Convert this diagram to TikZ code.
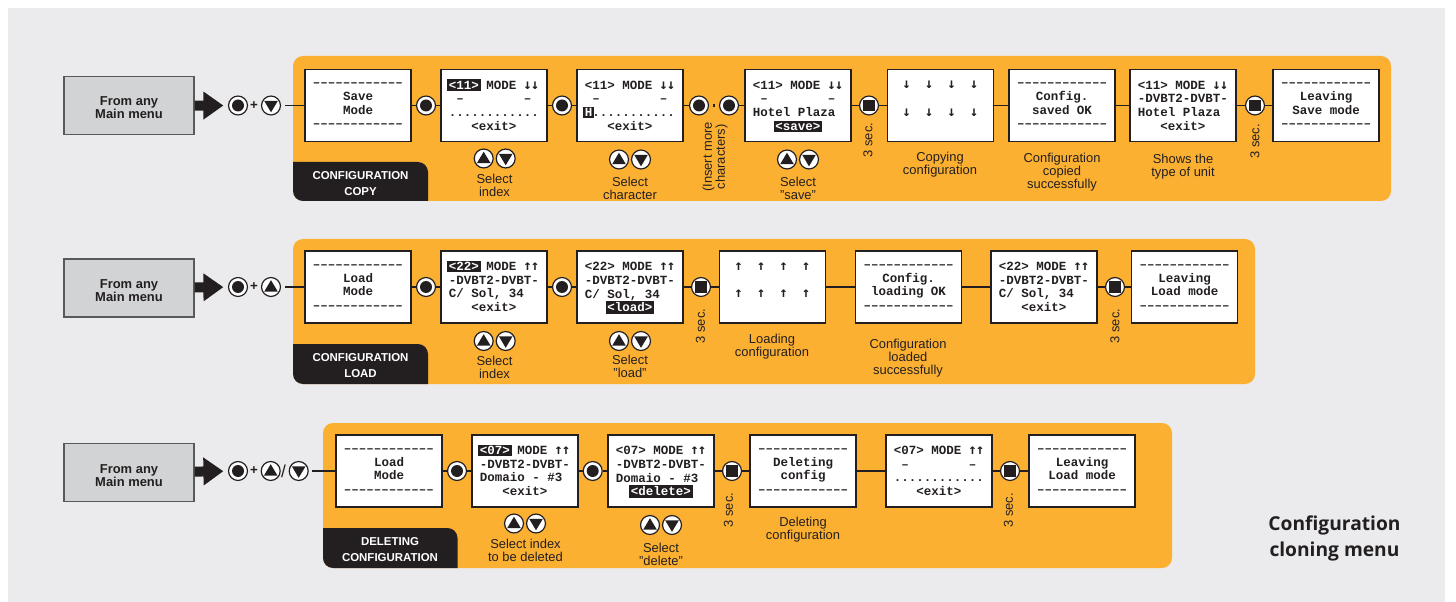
\documentclass[tikz,border=0pt]{standalone}
\usepackage{fontspec}
\usetikzlibrary{arrows.meta}
\setmainfont{Liberation Sans}
\newfontfamily\lcdfont{Liberation Mono}[BoldFont={Liberation Mono Bold}]
\newfontfamily\arrowfont{DejaVu Sans Mono}[BoldFont={DejaVu Sans Mono Bold}]
\newfontfamily\titlefont{Open Sans}
\definecolor{ink}{HTML}{231F20}
\definecolor{panelbg}{HTML}{EBEBED}
\definecolor{amber}{HTML}{FCB032}
\definecolor{boxgrey}{HTML}{D1D3D4}
\definecolor{boxline}{HTML}{58595B}
\newcommand\lcdtype{\lcdfont\bfseries\fontsize{9.375}{10.3}\selectfont}
\newcommand\gp[1]{\hspace*{#1\dimexpr 5.625pt\relax}}
\newcommand\hl[1]{\smash{\setlength\fboxsep{1.2pt}\kern-1.2pt\colorbox{ink}{\textcolor{white}{#1}}\kern-1.2pt}}
\newcommand\dashrow{––––––––––––}
\newcommand\dotrow{............}
\newcommand\tickrow{\gp{1}–\gp{8}–}
\newcommand\dn{\makebox[5.625pt]{\arrowfont\bfseries\fontsize{10.5}{10.3}\selectfont ↓}}
\newcommand\up{\makebox[5.625pt]{\arrowfont\bfseries\fontsize{10.5}{10.3}\selectfont ↑}}
\newcommand\qt{\symbol{34}}
\tikzset{
  scr/.style={draw=ink,fill=white,line width=1.1pt,minimum width=79.5pt,minimum height=54pt,inner sep=0pt,text=ink,font=\lcdtype,text width=67.6pt,execute at begin node={\spaceskip=5.625pt\relax\xspaceskip=5.625pt\relax}},
  scrl/.style={scr,align=flush left},
  scrc/.style={scr,align=flush center},
  conn/.style={draw=ink,line width=1.3pt},
  btn/.style={circle,draw=ink,fill=white,line width=0.9pt,minimum size=14.2pt,inner sep=0pt},
  okbtn/.style={btn,path picture={\fill[ink] (path picture bounding box.center) circle (6);}},
  stopbtn/.style={btn,path picture={\fill[ink,shift={(path picture bounding box.center)}] (-5.7,-5.7) rectangle (5.7,5.7);}},
  upbtn/.style={btn,path picture={\fill[ink,shift={(path picture bounding box.center)}] (-6.8,4.6)--(6.8,4.6)--(0,-6.8)--cycle;}},
  downbtn/.style={btn,path picture={\fill[ink,shift={(path picture bounding box.center)}] (-6.8,-4.6)--(6.8,-4.6)--(0,6.8)--cycle;}},
  capt/.style={font=\fontsize{9.7}{9.7}\selectfont,text=ink,align=center,inner sep=0pt},
  secs/.style={capt,rotate=90},
  frombox/.style={draw=boxline,fill=boxgrey,line width=1pt,minimum width=97.5pt,minimum height=43.5pt,inner sep=0pt},
  fromtext/.style={inner sep=0pt,align=center,text=ink,font=\bfseries\fontsize{9.7}{9.8}\selectfont},
  tabtext/.style={text=white,align=center,inner sep=0pt,font=\bfseries\fontsize{8.6}{12}\selectfont},
  signtxt/.style={inner sep=0pt,text=ink,font=\bfseries\fontsize{10}{10}\selectfont},
  bigarrow/.style={draw=ink,line width=7.5pt,-{Triangle[length=15pt,width=20pt]},shorten >=3.4pt}
}
\begin{document}
\begin{tikzpicture}[x=0.75pt,y=-0.75pt]
\useasboundingbox (0,0) rectangle (1456,602);
\fill[panelbg] (8,8) rectangle (1445,602);

% ---------- panels
\fill[amber,rounded corners=7.5pt] (293,56) rectangle (1391,201);
\fill[amber,rounded corners=7.5pt] (293,239) rectangle (1255,384);
\fill[amber,rounded corners=7.5pt] (323,423) rectangle (1172,568);
% ---------- tabs
\fill[ink] (293,162) -- (418,162) .. controls (423.5,162) and (428,166.5) .. (428,172) -- (428,201) -- (303,201) .. controls (297.5,201) and (293,196.5) .. (293,191) -- cycle;
\fill[ink] (293,344) -- (418,344) .. controls (423.5,344) and (428,348.5) .. (428,354) -- (428,384) -- (303,384) .. controls (297.5,384) and (293,379.5) .. (293,374) -- cycle;
\fill[ink] (323,528) -- (447.5,528) .. controls (453,528) and (457.5,532.5) .. (457.5,538) -- (457.5,568) -- (333,568) .. controls (327.5,568) and (323,563.5) .. (323,558) -- cycle;
\node[tabtext] (tabA) at (360.5,183.5) {CONFIGURATION\\COPY};
\node[tabtext] (tabB) at (360.5,365.5) {CONFIGURATION\\LOAD};
\node[tabtext] (tabC) at (390,549.5) {DELETING\\CONFIGURATION};

% ---------- row 1
\node[frombox] (fromA) at (129,105.7) {};
\node[fromtext] (fromAt) at (129,108) {From any\\Main menu};
\node[okbtn] (ea) at (238,105.5) {};
\node[signtxt] (pa) at (254,105.5) {+};
\node[downbtn] (eb) at (271,105.5) {};
\coordinate (ec) at (285,105.5);
\draw[bigarrow] (fromA) -- (ea);

\node[scrc] (a1) at (358,105.5) {\dashrow\\Save\\Mode\\\dashrow};
\node[scrl] (a2) at (494,105.5) {\hl{<11>} MODE \dn\dn\\\tickrow\\\dotrow\\\gp{3}<exit>};
\node[scrl] (a3) at (630,105.5) {<11> MODE \dn\dn\\\tickrow\\\hl{H}...........\\\gp{3}<exit>};
\node[scrl] (a4) at (798,105.5) {<11> MODE \dn\dn\\\tickrow\\Hotel Plaza\\\gp{3}\hl{<save>}};
\node[scrl] (a5) at (940.5,105.5) {\gp{1}\dn\gp{2}\dn\gp{2}\dn\gp{2}\dn\\\mbox{}\\\gp{1}\dn\gp{2}\dn\gp{2}\dn\gp{2}\dn\\\mbox{}};
\node[scrc] (a6) at (1062,105.5) {\dashrow\\Config.\\saved OK\\\dashrow};
\node[scrl] (a7) at (1183,105.5) {<11> MODE \dn\dn\\-DVBT2-DVBT-\\Hotel Plaza\\\gp{3}<exit>};
\node[scrc] (a8) at (1326,105.5) {\dashrow\\Leaving\\Save mode\\\dashrow};
\node[okbtn] (ab1) at (426,105.5) {};
\node[okbtn] (ab2) at (562,105.5) {};
\node[okbtn] (ab3) at (699,105.5) {};
\node[okbtn] (ab4) at (729,105.5) {};
\node[stopbtn] (ab5) at (869,105.5) {};
\node[stopbtn] (ab6) at (1255,105.5) {};
\draw[conn] (ec) -- (a1);
\draw[conn] (a1) -- (ab1) (ab1) -- (a2) (a2) -- (ab2) (ab2) -- (a3) (a3) -- (ab3);
\draw[conn,line width=2.4pt,shorten >=2.7pt,shorten <=2.7pt] (ab3) -- (ab4);
\draw[conn] (ab4) -- (a4) (a4) -- (ab5) (ab5) -- (a5) (a5) -- (a6) (a6) -- (a7) (a7) -- (ab6) (ab6) -- (a8);

\node[upbtn] (au1) at (483.7,158.5) {};
\node[downbtn] (ad1) at (505.7,158.5) {};
\node[upbtn] (au2) at (619,159.5) {};
\node[downbtn] (ad2) at (641,159.5) {};
\node[upbtn] (au3) at (787,159.5) {};
\node[downbtn] (ad3) at (809,159.5) {};
\node[capt] (ac1) at (494.5,185) {Select\\index};
\node[capt] (ac2) at (630,188) {Select\\character};
\node[capt] (ac3) at (798,188) {Select\\\qt save\qt};
\node[capt,rotate=90] (ac4) at (715,157) {(Insert more\\characters)};
\node[secs] (ac5) at (868,140) {3 sec.};
\node[capt] (ac6) at (940,165) {Copying\\configuration};
\node[capt] (ac7) at (1062,172) {Configuration\\copied\\successfully};
\node[capt] (ac8) at (1183,167) {Shows the\\type of unit};
\node[secs] (ac9) at (1255,141.5) {3 sec.};

% ---------- row 2
\node[frombox] (fromB) at (129,288) {};
\node[fromtext] (fromBt) at (129,290.5) {From any\\Main menu};
\node[okbtn] (ba) at (238,287) {};
\node[signtxt] (pb) at (254,287) {+};
\node[upbtn] (bb) at (271,287) {};
\coordinate (bc) at (285,287);
\draw[bigarrow] (fromB) -- (ba);

\node[scrc] (b1) at (358,287) {\dashrow\\Load\\Mode\\\dashrow};
\node[scrl] (b2) at (494,287) {\hl{<22>} MODE \up\up\\-DVBT2-DVBT-\\C/ Sol, 34\\\gp{3}<exit>};
\node[scrl] (b3) at (630,287) {<22> MODE \up\up\\-DVBT2-DVBT-\\C/ Sol, 34\\\gp{3}\hl{<load>}};
\node[scrl] (b4) at (772.5,287) {\gp{1}\up\gp{2}\up\gp{2}\up\gp{2}\up\\\mbox{}\\\gp{1}\up\gp{2}\up\gp{2}\up\gp{2}\up\\\mbox{}};
\node[scrc] (b5) at (908.5,287) {\dashrow\\Config.\\loading OK\\\dashrow};
\node[scrl] (b6) at (1044,287) {<22> MODE \up\up\\-DVBT2-DVBT-\\C/ Sol, 34\\\gp{3}<exit>};
\node[scrc] (b7) at (1184.5,287) {\dashrow\\Leaving\\Load mode\\\dashrow};
\node[okbtn] (bb1) at (426,287) {};
\node[okbtn] (bb2) at (562,287) {};
\node[stopbtn] (bb3) at (701,287) {};
\node[stopbtn] (bb4) at (1115,287) {};
\draw[conn] (bc) -- (b1);
\draw[conn] (b1) -- (bb1) (bb1) -- (b2) (b2) -- (bb2) (bb2) -- (b3) (b3) -- (bb3) (bb3) -- (b4) (b4) -- (b5) (b5) -- (b6) (b6) -- (bb4) (bb4) -- (b7);

\node[upbtn] (bu1) at (483.7,341) {};
\node[downbtn] (bd1) at (505.7,341) {};
\node[upbtn] (bu2) at (619,341) {};
\node[downbtn] (bd2) at (641,341) {};
\node[capt] (bc1) at (494.5,367) {Select\\index};
\node[capt] (bc2) at (630,366) {Select\\\qt load\qt};
\node[secs] (bc3) at (700.5,326) {3 sec.};
\node[capt] (bc4) at (772,347) {Loading\\configuration};
\node[capt] (bc5) at (908,358) {Configuration\\loaded\\successfully};
\node[secs] (bc6) at (1115,326) {3 sec.};

% ---------- row 3
\node[frombox] (fromC) at (129,472.5) {};
\node[fromtext] (fromCt) at (129,475.3) {From any\\Main menu};
\node[okbtn] (ca) at (238,471) {};
\node[signtxt] (pc) at (254,471) {+};
\node[upbtn] (cb) at (270.7,471) {};
\node[signtxt,font=\fontsize{13}{13}\selectfont] (sl) at (283.5,471) {/};
\node[downbtn] (cd) at (298.7,471) {};
\coordinate (cc) at (312,471);
\draw[bigarrow] (fromC) -- (ca);

\node[scrc] (c1) at (389,471) {\dashrow\\Load\\Mode\\\dashrow};
\node[scrl] (c2) at (525,471) {\hl{<07>} MODE \up\up\\-DVBT2-DVBT-\\Domaio - \#3\\\gp{3}<exit>};
\node[scrl] (c3) at (661,471) {<07> MODE \up\up\\-DVBT2-DVBT-\\Domaio - \#3\\\gp{2}\hl{<delete>}};
\node[scrc] (c4) at (803,471) {\dashrow\\Deleting\\config\\\dashrow};
\node[scrl] (c5) at (939,471) {<07> MODE \up\up\\\tickrow\\\dotrow\\\gp{3}<exit>};
\node[scrc] (c6) at (1082,471) {\dashrow\\Leaving\\Load mode\\\dashrow};
\node[okbtn] (cb1) at (457,471) {};
\node[okbtn] (cb2) at (592.7,471) {};
\node[stopbtn] (cb3) at (732,471) {};
\node[stopbtn] (cb4) at (1010,471) {};
\draw[conn] (cc) -- (c1);
\draw[conn] (c1) -- (cb1) (cb1) -- (c2) (c2) -- (cb2) (cb2) -- (c3) (c3) -- (cb3) (cb3) -- (c4) (c4) -- (c5) (c5) -- (cb4) (cb4) -- (c6);

\node[upbtn] (cu1) at (514,523.5) {};
\node[downbtn] (cd1) at (536,523.5) {};
\node[upbtn] (cu2) at (650,525) {};
\node[downbtn] (cd2) at (672,525) {};
\node[capt] (cc1) at (525.5,550) {Select index\\to be deleted};
\node[capt] (cc2) at (661,554) {Select\\\qt delete\qt};
\node[secs] (cc3) at (728.5,510) {3 sec.};
\node[capt] (cc4) at (803,529.5) {Deleting\\configuration};
\node[secs] (cc5) at (1008.5,510.5) {3 sec.};

% ---------- title
\node[inner sep=0pt,align=center,text=ink,font=\titlefont\bfseries\fontsize{14.4}{19.5}\selectfont] (title) at (1334.5,538.5) {Configuration\\cloning menu};
\end{tikzpicture}
\end{document}
